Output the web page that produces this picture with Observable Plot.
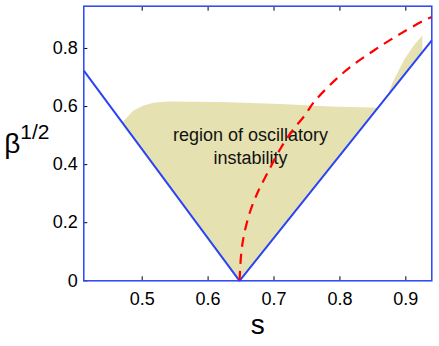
<!DOCTYPE html>
<html><head><meta charset="utf-8">
<script src="https://cdn.jsdelivr.net/npm/d3@7"></script>
<script src="https://cdn.jsdelivr.net/npm/@observablehq/plot@0.6"></script>
<style>body{margin:0;background:#fff}</style>
</head><body><div id="chart"></div>
<script>
const xTicks = [0.5, 0.6, 0.7, 0.8, 0.9];
const xTickLabels = ["0.5", "0.6", "0.7", "0.8", "0.9"];
const yTicks = [0, 0.2, 0.4, 0.6, 0.8];
const yTickLabels = ["0", "0.2", "0.4", "0.6", "0.8"];

// blue V-shaped boundary
const vS = [0.4114, 0.6477, 0.9394];
const vB = [0.724, 0, 0.8275];

// red dashed curve
const redS = [0.6477, 0.6504, 0.6552, 0.6643, 0.6765, 0.6897, 0.7099, 0.7281, 0.7478, 0.7604, 0.806, 0.8515, 0.892, 0.9325, 0.9394];
const redB = [0, 0.0975, 0.166, 0.242, 0.311, 0.3695, 0.4556, 0.5176, 0.5727, 0.615, 0.718, 0.793, 0.851, 0.902, 0.908];

// shaded region (main)
const regionS = [0.4697, 0.4868, 0.502, 0.5171, 0.5384, 0.6188, 0.7099, 0.7857, 0.8577, 0.6477];
const regionB = [0.545, 0.586, 0.604, 0.613, 0.617, 0.616, 0.609, 0.600, 0.596, 0];

// shaded sliver near right edge
const sliverS = [0.8727, 0.8798, 0.897, 0.912, 0.925, 0.925];
const sliverB = [0.638, 0.683, 0.759, 0.810, 0.845, 0.787];

// annotation
const noteS = [0.6643];
const noteB = [0.4022];
const noteText = ["region of oscillatory\ninstability"];

const xLabel = ["s"];
const yLabelMain = ["β"];
const yLabelSup = ["1/2"];

const BLUE = "#2a44f5";
const TAN = "#e6e1b0";

const pts = (xs, ys) => xs.map((s, i) => ({s, b: ys[i]}));

const chart = Plot.plot({
  width: 439,
  height: 346,
  marginLeft: 83.3,
  marginRight: 7.7,
  marginTop: 5.7,
  marginBottom: 65.7,
  style: {fontFamily: "'Liberation Sans', Arial, sans-serif", fontSize: "18px", color: "#000", background: "#fff"},
  x: {domain: [0.4114, 0.9394]},
  y: {domain: [0, 0.9455]},
  marks: [
    Plot.line(pts(regionS, regionB), {x: "s", y: "b", fill: TAN, stroke: "none"}),
    Plot.line(pts(sliverS, sliverB), {x: "s", y: "b", fill: TAN, stroke: "none"}),
    Plot.text(noteText.map((t, i) => ({s: noteS[i], b: noteB[i], t})), {x: "s", y: "b", text: "t", fontSize: 18, lineHeight: 1.25, lineAnchor: "bottom", textAnchor: "middle", fill: "#111"}),
    Plot.line(pts(vS, vB), {x: "s", y: "b", stroke: BLUE, strokeWidth: 2, strokeLinecap: "butt", strokeLinejoin: "miter"}),
    Plot.line(pts(redS, redB), {x: "s", y: "b", stroke: "#ff0000", strokeWidth: 2.2, strokeDasharray: "10,7", strokeLinecap: "butt", curve: "catmull-rom"}),
    Plot.axisX(xTicks, {anchor: "bottom", tickSize: -4, tickPadding: 15, tickFormat: d => xTickLabels[xTicks.indexOf(d)], label: null, fontSize: 18}),
    Plot.axisX(xTicks, {anchor: "top", tickSize: -4, fill: "none", label: null}),
    Plot.axisY(yTicks, {anchor: "left", tickSize: -4, tickPadding: 10, tickFormat: d => yTickLabels[yTicks.indexOf(d)], label: null, fontSize: 18}),
    Plot.frame({stroke: BLUE, strokeWidth: 1.5}),
    Plot.text(xLabel, {frameAnchor: "bottom", lineAnchor: "bottom", dy: 52.7, fontSize: 28, text: d => d}),
    Plot.text(yLabelMain, {frameAnchor: "left", textAnchor: "start", lineAnchor: "bottom", dx: -79.5, dy: 9.4, fontSize: 28, text: d => d}),
    Plot.text(yLabelSup, {frameAnchor: "left", textAnchor: "start", lineAnchor: "bottom", dx: -63.5, dy: -4.7, fontSize: 21, text: d => d})
  ]
});
document.getElementById("chart").appendChild(chart);
</script>
</body></html>
